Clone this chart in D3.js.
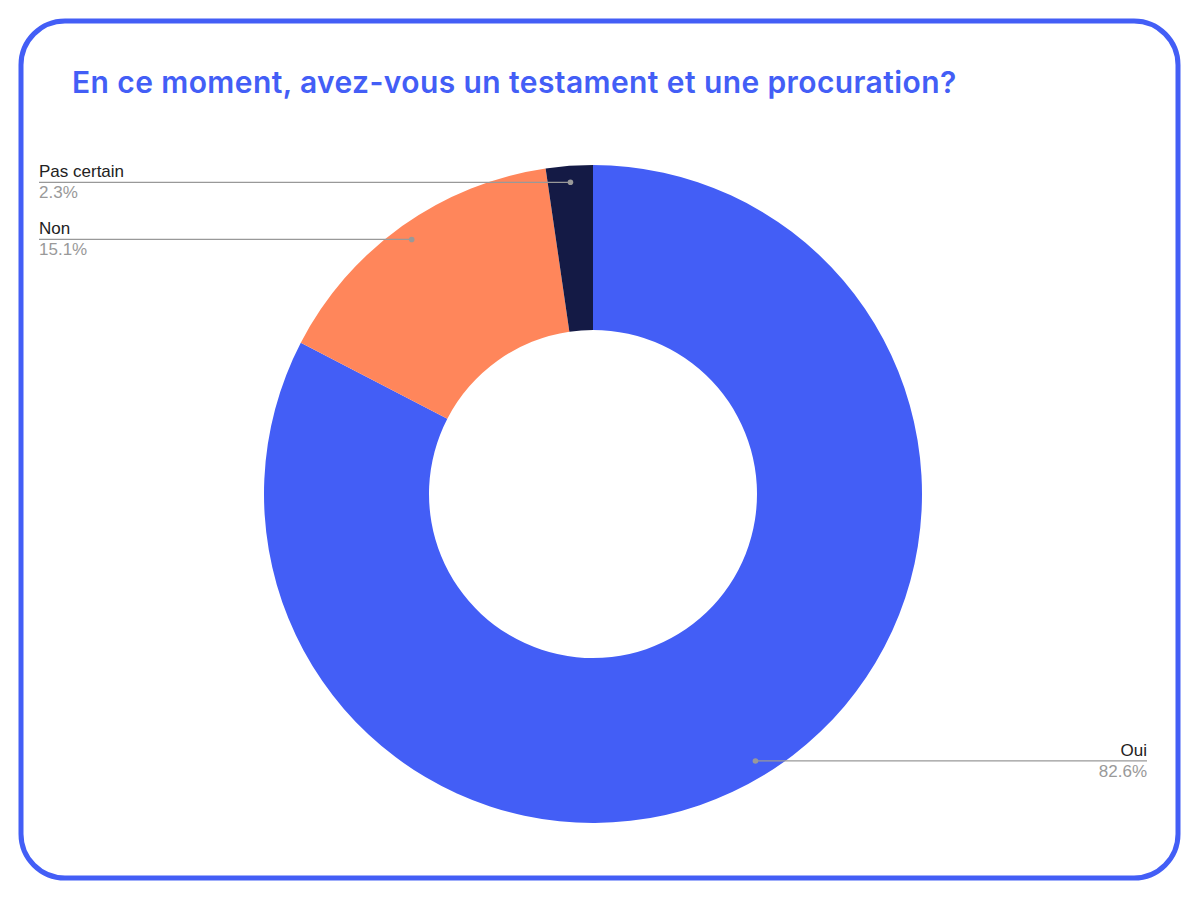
<!DOCTYPE html>
<html>
<head>
<meta charset="utf-8">
<script src="https://cdn.jsdelivr.net/npm/d3@7"></script>
<style>
  html, body { margin: 0; padding: 0; background: #fff; }
</style>
</head>
<body>
<div id="canvas"></div>
<script>
const categories = ['Oui', 'Non', 'Pas certain'];
const values = [82.6, 15.1, 2.3];
const colors = ['#435ef6', '#ff865b', '#141a45'];
const title = 'En ce moment, avez-vous un testament et une procuration?';

const W = 1200, H = 900;
const cx = 593, cy = 494;
const outerR = 329, innerR = 164, dotR = 312.5;

const svg = d3.select('#canvas').append('svg')
  .attr('width', W)
  .attr('height', H);

// frame
svg.append('rect')
  .attr('x', 21).attr('y', 21)
  .attr('width', 1157).attr('height', 857)
  .attr('rx', 44).attr('ry', 44)
  .attr('fill', '#fff')
  .attr('stroke', '#435ef6')
  .attr('stroke-width', 5);

svg.append('text')
  .attr('x', 72).attr('y', 93)
  .attr('fill', '#435ef6')
  .attr('font-family', 'Inter, sans-serif')
  .attr('font-weight', 600)
  .attr('font-size', '30px')
  .attr('letter-spacing', '0.4px')
  .text(title);

const data = categories.map((c, i) => ({ name: c, value: values[i], color: colors[i] }));

const pie = d3.pie()
  .sort(null)
  .value(d => d.value);

const arcs = pie(data);

const arc = d3.arc()
  .innerRadius(innerR)
  .outerRadius(outerR);

const g = svg.append('g')
  .attr('transform', `translate(${cx}, ${cy})`);

g.selectAll('path')
  .data(arcs)
  .enter()
  .append('path')
  .attr('d', arc)
  .attr('fill', d => d.data.color);

// callouts: left side labels start at x=39, right side ends at x=1147
const dotPos = d => {
  const a = (d.startAngle + d.endAngle) / 2;
  return [cx + dotR * Math.sin(a), cy - dotR * Math.cos(a)];
};

const callouts = svg.append('g');

arcs.forEach(d => {
  const [x, y] = dotPos(d);
  const right = x > cx;
  const x2 = right ? 1147 : 39;
  callouts.append('line')
    .attr('x1', x).attr('y1', y)
    .attr('x2', x2).attr('y2', y)
    .attr('stroke', '#999')
    .attr('stroke-width', 1.3);
  callouts.append('circle')
    .attr('cx', x).attr('cy', y)
    .attr('r', 2.8)
    .attr('fill', '#999');
  callouts.append('text')
    .attr('x', x2).attr('y', y - 5)
    .attr('text-anchor', right ? 'end' : 'start')
    .attr('font-family', '"Liberation Sans", Arial, sans-serif')
    .attr('font-size', '17px')
    .attr('fill', '#222')
    .text(d.data.name);
  callouts.append('text')
    .attr('x', x2).attr('y', y + 16)
    .attr('text-anchor', right ? 'end' : 'start')
    .attr('font-family', '"Liberation Sans", Arial, sans-serif')
    .attr('font-size', '17px')
    .attr('fill', '#999')
    .text(d3.format('.1f')(d.data.value) + '%');
});
</script>
</body>
</html>
